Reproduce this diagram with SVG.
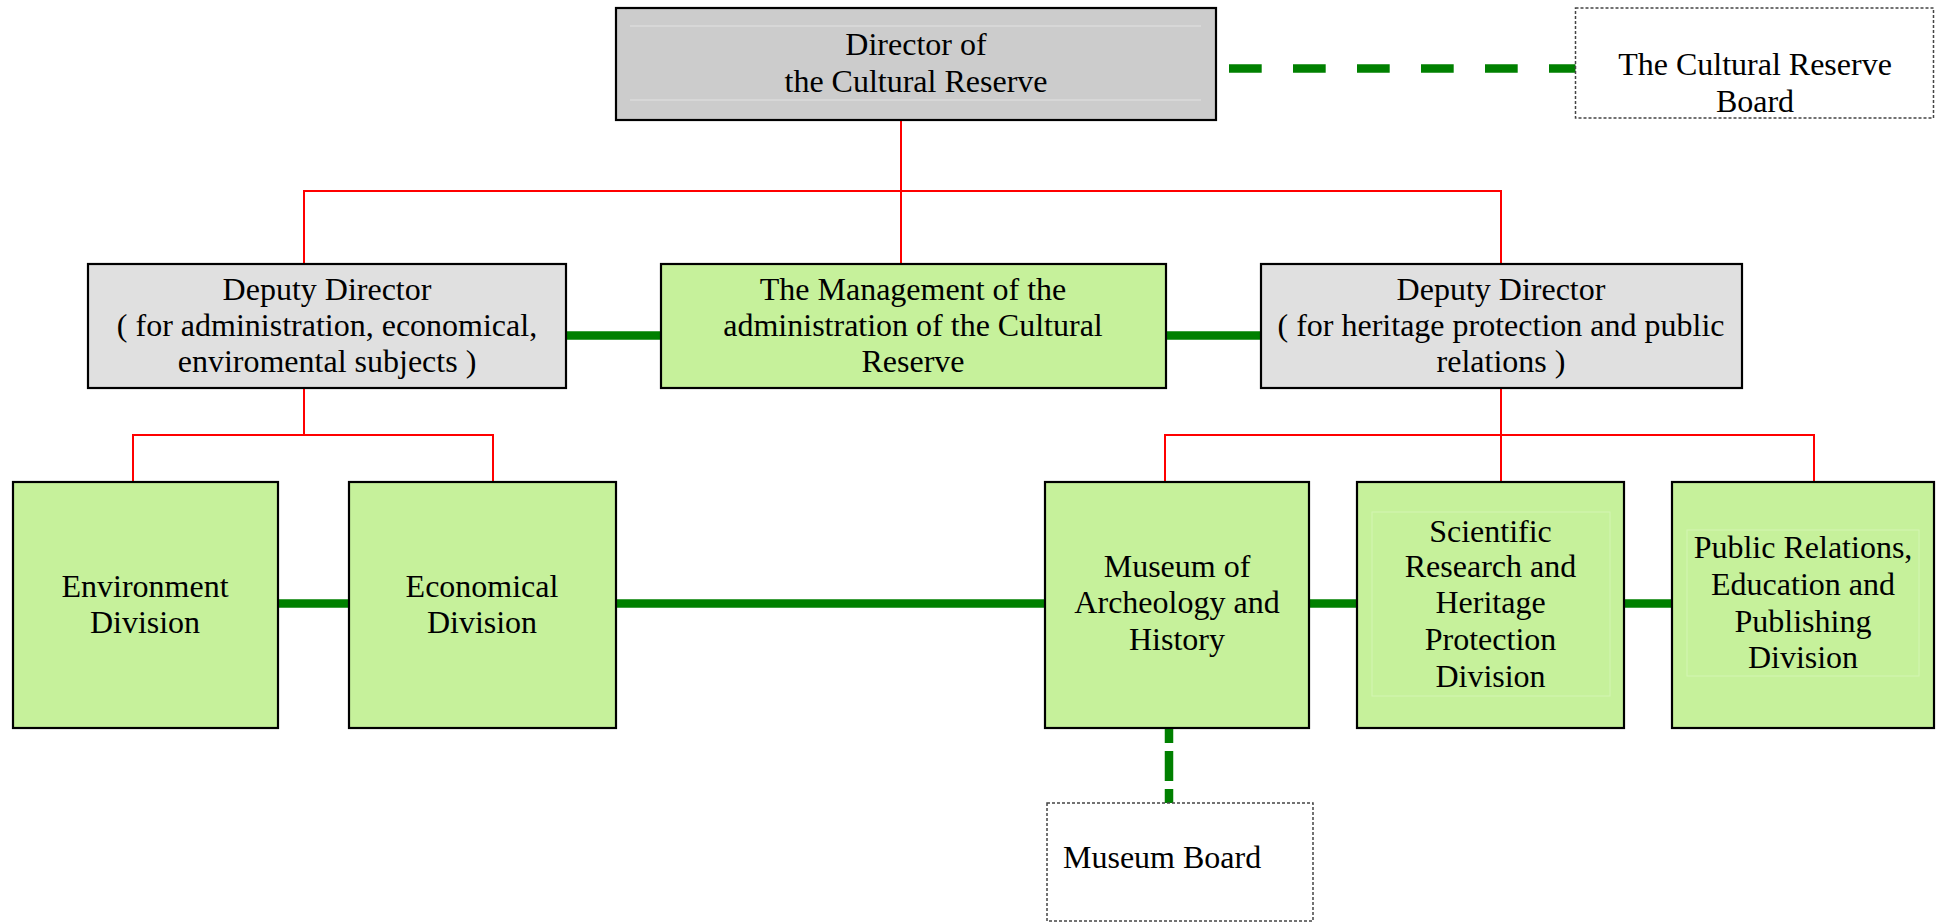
<svg xmlns="http://www.w3.org/2000/svg" width="1939" height="924" viewBox="0 0 1939 924">
<style>
.box{stroke:#000;stroke-width:2.2}
.dir{fill:#cccccc}
.dep{fill:#e0e0e0}
.grn{fill:#c6f19b}
.brd{fill:#fff;stroke:#444;stroke-width:1.5;stroke-dasharray:3 2}
.t{font-family:"Liberation Serif","Times New Roman",serif;font-size:32px;fill:#000;text-anchor:middle}
.red{stroke:#ff0000;stroke-width:2;fill:none}
.gl{stroke:#008000;stroke-width:8.5;fill:none}
.faint{stroke:#e2e2e2;stroke-width:1;fill:none}
.faintg{stroke:#d3f5b3;stroke-width:1;fill:none}
</style>
<rect width="1939" height="924" fill="#fff"/>
<g id="connectors">
<polyline class="red" points="901,120 901,191"/>
<polyline class="red" points="304,264 304,191 1501,191 1501,264"/>
<polyline class="red" points="901,191 901,264"/>
<polyline class="red" points="304,388 304,435"/>
<polyline class="red" points="133,482 133,435 493,435 493,482"/>
<polyline class="red" points="1501,388 1501,482"/>
<polyline class="red" points="1165,482 1165,435 1814,435 1814,482"/>
<line class="gl" x1="1229" y1="68.5" x2="1576" y2="68.5" stroke-dasharray="32.7 31.3"/>
<line class="gl" x1="566" y1="335.5" x2="661" y2="335.5"/>
<line class="gl" x1="1166" y1="335.5" x2="1261" y2="335.5"/>
<line class="gl" x1="278" y1="603.5" x2="349" y2="603.5"/>
<line class="gl" x1="616" y1="603.5" x2="1045" y2="603.5"/>
<line class="gl" x1="1309" y1="603.5" x2="1357" y2="603.5"/>
<line class="gl" x1="1624" y1="603.5" x2="1672" y2="603.5"/>
<line class="gl" x1="1169" y1="728" x2="1169" y2="803" stroke-dasharray="30 8" stroke-dashoffset="15"/>
</g>
<g id="director">
<rect class="box dir" x="616" y="8" width="600" height="112"/>
<line class="faint" x1="630" y1="26" x2="1201" y2="26"/>
<line class="faint" x1="630" y1="100" x2="1201" y2="100"/>
<text class="t" x="916" y="55">Director of</text>
<text class="t" x="916" y="92">the Cultural Reserve</text>
</g>
<g id="reserve-board">
<rect class="brd" x="1575.5" y="8" width="358" height="110"/>
<text class="t" x="1755" y="75">The Cultural Reserve</text>
<text class="t" x="1755" y="112">Board</text>
</g>
<g id="deputy-admin">
<rect class="box dep" x="88" y="264" width="478" height="124"/>
<text class="t" x="327" y="300">Deputy Director</text>
<text class="t" x="327" y="336">( for administration, economical,</text>
<text class="t" x="327" y="372">enviromental subjects )</text>
</g>
<g id="management">
<rect class="box grn" x="661" y="264" width="505" height="124"/>
<text class="t" x="913" y="300">The Management of the</text>
<text class="t" x="913" y="336">administration of the Cultural</text>
<text class="t" x="913" y="372">Reserve</text>
</g>
<g id="deputy-heritage">
<rect class="box dep" x="1261" y="264" width="481" height="124"/>
<text class="t" x="1501" y="300">Deputy Director</text>
<text class="t" x="1501" y="336">( for heritage protection and public</text>
<text class="t" x="1501" y="372">relations )</text>
</g>
<g id="environment">
<rect class="box grn" x="13" y="482" width="265" height="246"/>
<text class="t" x="145" y="597">Environment</text>
<text class="t" x="145" y="633">Division</text>
</g>
<g id="economical">
<rect class="box grn" x="349" y="482" width="267" height="246"/>
<text class="t" x="482" y="597">Economical</text>
<text class="t" x="482" y="633">Division</text>
</g>
<g id="museum">
<rect class="box grn" x="1045" y="482" width="264" height="246"/>
<text class="t" x="1177" y="577">Museum of</text>
<text class="t" x="1177" y="613">Archeology and</text>
<text class="t" x="1177" y="650">History</text>
</g>
<g id="scientific">
<rect class="box grn" x="1357" y="482" width="267" height="246"/>
<rect class="faintg" x="1372" y="512" width="238" height="184"/>
<text class="t" x="1490.5" y="542">Scientific</text>
<text class="t" x="1490.5" y="577">Research and</text>
<text class="t" x="1490.5" y="613">Heritage</text>
<text class="t" x="1490.5" y="650">Protection</text>
<text class="t" x="1490.5" y="687">Division</text>
</g>
<g id="public-relations">
<rect class="box grn" x="1672" y="482" width="262" height="246"/>
<rect class="faintg" x="1687" y="530" width="232" height="146"/>
<text class="t" x="1803" y="558">Public Relations,</text>
<text class="t" x="1803" y="595">Education and</text>
<text class="t" x="1803" y="632">Publishing</text>
<text class="t" x="1803" y="668">Division</text>
</g>
<g id="museum-board">
<rect class="brd" x="1047" y="803" width="266" height="118"/>
<text class="t" x="1063" y="868" style="text-anchor:start">Museum Board</text>
</g>
</svg>
